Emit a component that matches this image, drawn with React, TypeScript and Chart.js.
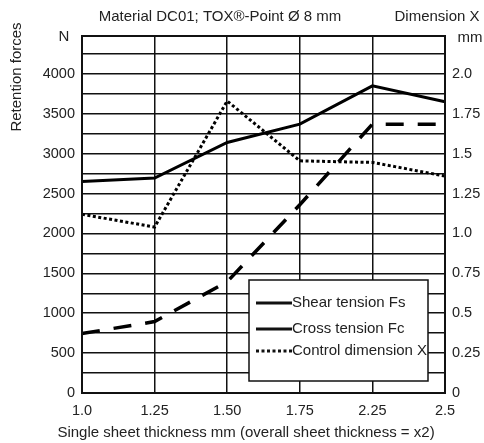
import React, { useEffect, useRef } from "react";
import { Chart, registerables } from "chart.js";

Chart.register(...registerables);

const categories = ["1.0", "1.25", "1.50", "1.75", "2.25", "2.5"];
const shearTension = [2650, 2695, 3140, 3370, 3850, 3650];
const crossTension = [745, 895, 1395, 2360, 3370, 3370];
const controlDimension = [1.12, 1.04, 1.83, 1.455, 1.445, 1.36];

const forceGridValues = [0, 250, 500, 750, 1000, 1250, 1500, 1750, 2000, 2250, 2500, 2750, 3000, 3250, 3500, 3750, 4000, 4250];
const forceLabelValues = [0, 500, 1000, 1500, 2000, 2500, 3000, 3500, 4000];
const forceMax = 4475;
const dimensionTickValues = [0, 0.25, 0.5, 0.75, 1.0, 1.25, 1.5, 1.75, 2.0];
const dimensionTickLabels = ["0", "0.25", "0.5", "0.75", "1.0", "1.25", "1.5", "1.75", "2.0"];
const dimensionMax = 4475 / 2000;

const seriesNames = ["Shear tension Fs", "Cross tension Fc", "Control dimension X"];
const titleText = "Material DC01; TOX®-Point Ø 8 mm";
const rightTitle = "Dimension X";
const leftTitle = "Retention forces";
const xTitle = "Single sheet thickness mm (overall sheet thickness = x2)";

const FONT = "'Liberation Sans', Arial, Helvetica, sans-serif";
const TEXT = "#222";
const LINE = "#111";

const extrasPlugin = {
  id: "extras",
  afterDraw(chart: any) {
    const { ctx, chartArea } = chart;
    const { left, right, top, bottom } = chartArea;
    ctx.save();
    // frame
    ctx.strokeStyle = LINE;
    ctx.lineWidth = 2;
    ctx.strokeRect(left, top, right - left, bottom - top);

    ctx.fillStyle = TEXT;
    ctx.font = `15px ${FONT}`;
    ctx.textBaseline = "middle";
    ctx.textAlign = "center";
    ctx.fillText(titleText, 220, 17);
    ctx.fillText(rightTitle, 437, 17);
    ctx.fillText("N", 64, 37);
    ctx.fillText("mm", 470, 38);
    ctx.fillText(xTitle, 246, 433);

    ctx.save();
    ctx.translate(17, 77);
    ctx.rotate(-Math.PI / 2);
    ctx.fillText(leftTitle, 0, 0);
    ctx.restore();

    // legend
    const bx = 249, by = 280, bw = 179, bh = 101;
    ctx.fillStyle = "#fff";
    ctx.fillRect(bx, by, bw, bh);
    ctx.strokeStyle = LINE;
    ctx.lineWidth = 1.5;
    ctx.strokeRect(bx, by, bw, bh);
    const rows = [303, 329, 351];
    const dashes = [[], [], [3, 2.5]];
    rows.forEach((ry, i) => {
      ctx.beginPath();
      ctx.setLineDash(dashes[i]);
      ctx.lineWidth = 3;
      ctx.lineCap = "butt";
      ctx.moveTo(256, ry);
      ctx.lineTo(292, ry);
      ctx.stroke();
      ctx.setLineDash([]);
      ctx.fillStyle = TEXT;
      ctx.textAlign = "left";
      ctx.fillText(seriesNames[i], 292, ry);
    });
    ctx.restore();
  },
};

export default function App() {
  const ref = useRef<HTMLCanvasElement | null>(null);
  useEffect(() => {
    if (!ref.current) return;
    const gridOpts = { color: LINE, lineWidth: 1.5, drawTicks: false };
    const tickFont = { family: FONT, size: 14.5 };
    const chart = new Chart(ref.current, {
      type: "line",
      data: {
        labels: categories,
        datasets: [
          {
            label: seriesNames[0],
            data: shearTension,
            borderColor: "#000",
            borderWidth: 3,
            pointRadius: 0,
            tension: 0,
            yAxisID: "y",
          },
          {
            label: seriesNames[1],
            data: crossTension,
            borderColor: "#000",
            borderWidth: 3.5,
            borderDash: [18, 14],
            pointRadius: 0,
            tension: 0,
            yAxisID: "y",
          },
          {
            label: seriesNames[2],
            data: controlDimension,
            borderColor: "#000",
            borderWidth: 3,
            borderDash: [3, 2.5],
            borderCapStyle: "butt",
            pointRadius: 0,
            tension: 0,
            yAxisID: "y1",
          },
        ],
      },
      options: {
        animation: false,
        responsive: true,
        maintainAspectRatio: false,
        layout: { padding: { top: 36, left: 0, right: 0, bottom: 0 } },
        plugins: { legend: { display: false }, tooltip: { enabled: false }, title: { display: false } },
        scales: {
          x: {
            type: "category",
            offset: false,
            grid: gridOpts,
            border: { display: false },
            ticks: { padding: 9, font: tickFont, color: TEXT, autoSkip: false, maxRotation: 0 },
            afterFit: (s: any) => { s.height = 50; },
          },
          y: {
            type: "linear",
            position: "left",
            min: 0,
            max: forceMax,
            grid: gridOpts,
            border: { display: false },
            afterBuildTicks: (s: any) => { s.ticks = forceGridValues.map((v) => ({ value: v })); },
            ticks: {
              padding: 7,
              font: tickFont,
              color: TEXT,
              autoSkip: false,
              callback: (v: any) => (forceLabelValues.includes(Number(v)) ? String(v) : ""),
            },
            afterFit: (s: any) => { s.width = 82; },
          },
          y1: {
            type: "linear",
            position: "right",
            min: 0,
            max: dimensionMax,
            grid: { display: false, drawTicks: false },
            border: { display: false },
            afterBuildTicks: (s: any) => { s.ticks = dimensionTickValues.map((v) => ({ value: v })); },
            ticks: {
              padding: 7,
              font: tickFont,
              color: TEXT,
              autoSkip: false,
              callback: (_v: any, i: number) => dimensionTickLabels[i],
            },
            afterFit: (s: any) => { s.width = 39; },
          },
        },
      },
      plugins: [extrasPlugin],
    } as any);
    return () => chart.destroy();
  }, []);
  return (
    <div style={{ position: "fixed", left: 0, top: 0, width: 484, height: 443, background: "#fff" }}>
      <canvas ref={ref} />
    </div>
  );
}
